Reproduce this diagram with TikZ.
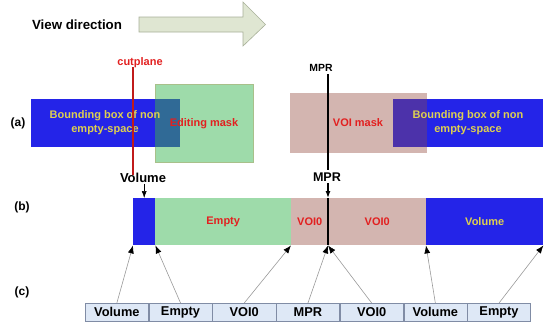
\documentclass[tikz,border=0pt]{standalone}
\usepackage{fontspec}
\setmainfont{Liberation Sans}
\usetikzlibrary{arrows.meta}
\definecolor{bblue}{RGB}{36,36,232}
\definecolor{mgreen}{RGB}{158,219,170}
\definecolor{rosy}{RGB}{211,181,176}
\definecolor{ovA}{RGB}{48,106,150}
\definecolor{ovB}{RGB}{76,50,170}
\definecolor{ytext}{RGB}{222,208,80}
\definecolor{rtext}{RGB}{226,32,32}
\definecolor{cellfill}{RGB}{222,232,246}
\definecolor{celldraw}{RGB}{128,140,165}
\definecolor{arrfill}{RGB}{223,230,210}
\definecolor{arrdraw}{RGB}{168,176,152}
\tikzset{
  txt/.style={font=\bfseries\fontsize{11}{13}\selectfont, align=center, inner sep=0pt},
  lbl/.style={font=\bfseries\fontsize{12}{14}\selectfont, inner sep=0pt},
  seg/.style={minimum height=47pt, inner sep=0pt, anchor=north west, font=\bfseries\fontsize{11}{13}\selectfont},
  cell/.style={draw=celldraw, fill=cellfill, line width=0.6pt, minimum width=63.1pt, minimum height=18pt, inner sep=0pt, anchor=north west, font=\bfseries\fontsize{12.8}{14}\selectfont},
  conn/.style={draw=gray!80, line width=0.6pt, -{Latex[length=8pt,width=6pt,color=black]}},
}
\begin{document}
\begin{tikzpicture}[x=1pt,y=-1pt]
\useasboundingbox (0,0) rectangle (547,325);
% view direction
\node[font=\bfseries\fontsize{13.3}{15}\selectfont, inner sep=0pt] (vd) at (77,25) {View direction};
\draw[fill=arrfill, draw=arrdraw, line width=0.6pt] (139,17) -- (243,17) -- (243,2) -- (265.5,24.5) -- (243,46) -- (243,32) -- (139,32) -- cycle;
% row labels
\node[lbl] (la) at (18,123) {(a)};
\node[lbl] (lb) at (22,207) {(b)};
\node[lbl] (lc) at (22,292) {(c)};
% (a) left
\fill[bblue] (31,99) rectangle (180,147);
\fill[mgreen] (155,84) rectangle (253,162);
\draw[draw=mgreen!70!brown, line width=0.4pt] (155,84) rectangle (253,162);
\fill[ovA] (155,99) rectangle (180,147);
\node[txt, text=ytext] (bbl) at (105,123) {Bounding box of non\\[1pt]empty-space};
\node[txt, text=rtext] (edm) at (204,124) {Editing mask};
% (a) right
\fill[rosy] (290,93) rectangle (427,153);
\fill[bblue] (393,99) rectangle (543,147);
\fill[ovB] (393,99) rectangle (427,147);
\node[txt, text=rtext] (voim) at (358,123) {VOI mask};
\node[txt, text=ytext] (bbr) at (468,123) {Bounding box of non\\[1pt]empty-space};
% cutplane
\node[font=\bfseries\fontsize{11}{13}\selectfont, text=rtext, inner sep=0pt] (cut) at (140,63) {cutplane};
\coordinate (cutend) at (133,175);
\draw[rtext!85!black, line width=1.3pt] (133,67) -- (cutend);
% MPR top
\node[font=\bfseries\fontsize{10.4}{12}\selectfont, inner sep=0pt] (mprt) at (321,68) {MPR};
\coordinate (mprend) at (328,170);
\draw[line width=1.1pt] (328,74) -- (mprend);
% (b) row
\node[seg, fill=bblue, minimum width=22pt] (b1) at (133,198) {};
\node[seg, fill=mgreen, minimum width=136pt, text=rtext] (b2) at (155,198) {Empty};
\node[seg, fill=rosy, minimum width=37pt, text=rtext] (b3) at (291,198) {VOI0};
\node[seg, fill=rosy, minimum width=98pt, text=rtext] (b4) at (328,198) {VOI0};
\node[seg, fill=bblue, minimum width=117pt, text=ytext] (b5) at (426,198) {Volume};
\draw[line width=1.6pt] (b4.north west) -- (b4.south west);
% labels above (b)
\node[font=\bfseries\fontsize{13}{15}\selectfont, inner sep=0pt] (vol) at (143,178) {Volume};
\draw[line width=0.5pt, -{Latex[length=7pt,width=5pt]}] (vol.south -| b1.north) ++(0,1) -- (b1.north);
\node[font=\bfseries\fontsize{12.6}{14}\selectfont, inner sep=0pt] (mprb) at (327,177) {MPR};
\draw[line width=1.2pt, -{Latex[length=7pt,width=5pt]}] (328,183) -- (b4.north west);
% (c) row
\node[cell] (c1) at (85,303) {Volume};
\node[cell] (c2) at (c1.north east) {Empty};
\node[cell] (c3) at (c2.north east) {VOI0};
\node[cell] (c4) at (c3.north east) {MPR};
\node[cell] (c5) at (c4.north east) {VOI0};
\node[cell] (c6) at (c5.north east) {Volume};
\node[cell] (c7) at (c6.north east) {Empty};
% connectors
\draw[conn] (c1.north) -- (b1.south west);
\draw[conn] (c2.north) -- (b1.south east);
\draw[conn] (c3.north) -- (b3.south west);
\draw[conn] (c4.north) -- (b4.south west);
\draw[conn] (c5.north) -- (b4.south west);
\draw[conn] (c6.north) -- (b5.south west);
\draw[conn] (c7.north) -- (b5.south east);
\end{tikzpicture}
\end{document}
